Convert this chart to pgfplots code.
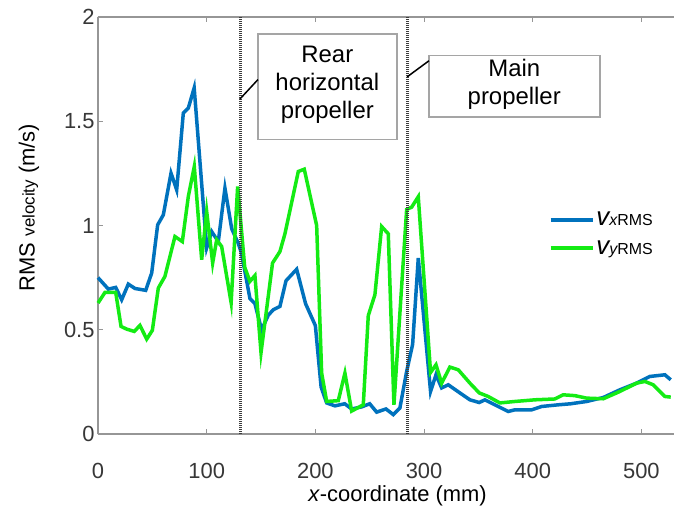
\documentclass[border=0pt]{standalone}
\usepackage{pgfplots}
\pgfplotsset{compat=1.18}
\usepackage{fontspec}
\setmainfont{Liberation Sans}
\definecolor{vxblue}{RGB}{0,114,189}
\definecolor{vygreen}{RGB}{20,235,20}
\definecolor{axgray}{RGB}{150,150,150}
\definecolor{boxgray}{RGB}{165,165,165}
\definecolor{ticktext}{RGB}{55,55,55}
\definecolor{markgray}{RGB}{60,60,60}

\pgfplotstableread{
x y
0 0.750
9.5 0.695
16.3 0.703
21.8 0.644
27.9 0.719
34 0.698
43.9 0.689
49.4 0.772
54.9 1.003
60.1 1.051
67.2 1.251
72.4 1.171
78.5 1.539
83.1 1.563
88.5 1.660
100 0.893
104.6 0.971
110.7 0.923
116.8 1.179
123 0.985
129 0.915
132 0.868
139.8 0.650
144.4 0.625
150.5 0.500
156.7 0.570
161.3 0.596
167.4 0.612
173 0.735
182.8 0.790
191 0.625
200 0.520
205.3 0.225
210.4 0.149
218 0.135
227 0.145
233.4 0.120
242.6 0.130
250 0.145
256.4 0.105
265 0.120
271.7 0.093
277.8 0.125
284 0.300
289.5 0.430
294.7 0.844
306 0.204
311 0.284
316.2 0.221
322.3 0.236
333 0.197
342.2 0.164
350.8 0.151
356 0.164
368.3 0.132
377.5 0.108
383.6 0.116
399 0.116
408.2 0.132
423.5 0.140
435 0.145
449.6 0.156
464.9 0.175
480.2 0.212
495.6 0.244
507.8 0.276
521.6 0.284
527 0.260
}\vxdata

\pgfplotstableread{
x y
0 0.628
6.4 0.679
16.3 0.679
21.2 0.516
26.4 0.503
33.4 0.492
38.6 0.521
44.8 0.455
50 0.497
55.5 0.700
61.6 0.756
70.8 0.947
77.6 0.923
83.1 1.139
88.6 1.283
95.4 0.836
100 1.067
105.5 0.820
109.2 0.931
113.8 0.899
122.5 0.630
128.5 1.187
135 0.800
139.8 0.732
144.4 0.760
150 0.390
160.6 0.820
167.4 0.875
172 0.960
184.3 1.259
189.8 1.270
201.2 1.000
205.8 0.292
210.4 0.156
221.1 0.160
227.2 0.292
233.4 0.110
244.1 0.140
248.7 0.568
254.8 0.668
261 0.995
267.1 0.960
272.3 0.140
284 1.077
288.6 1.088
294.7 1.138
306 0.295
311 0.332
316.2 0.244
323.8 0.321
331.5 0.308
342.2 0.244
350.8 0.197
359 0.180
369.8 0.149
383.6 0.156
402 0.164
420.4 0.168
428 0.188
438.8 0.184
449.6 0.172
464.9 0.169
480.2 0.204
495.6 0.244
503.2 0.252
510.9 0.236
521.6 0.180
527 0.177
}\vydata

\begin{document}
\begin{tikzpicture}
\begin{axis}[
  scale only axis,
  width=576bp, height=417bp,
  xmin=0, xmax=530, ymin=0, ymax=2,
  axis x line*=box, axis y line*=left,
  xtick={0,100,...,500}, ytick={0,0.5,...,2},
  tick align=inside, major tick length=5bp,
  axis line style={axgray, line width=1.2bp},
  every tick/.style={axgray, line width=1bp},
  tick label style={font=\fontsize{22}{22}\selectfont, text=ticktext},
  xticklabel style={yshift=-26bp},
  /pgf/number format/assume math mode=true,
  xlabel={\textit{x}-coordinate (mm)},
  xlabel style={at={(axis description cs:0.52,-0.148)}, anchor=center,
    font=\fontsize{22}{22}\selectfont},
  ylabel={\fontsize{22}{22}\selectfont RMS\hspace{6bp}{\fontsize{17}{17}\selectfont velocity}\hspace{6bp}(m/s)},
  ylabel style={at={(axis description cs:-0.12,0.543)}, anchor=center},
  clip=false,
  legend style={draw=none, fill=none, at={(axis cs:412,0.96)}, anchor=west,
    row sep=9bp, font=\fontsize{16}{16}\selectfont},
  legend cell align=left,
  legend image code/.code={\draw[#1] (0bp,0bp) -- (42bp,0bp);},
]
\addplot[vxblue, line width=3.5bp] table[x=x,y=y] {\vxdata};
\addlegendentry{{\fontsize{26}{26}\selectfont\itshape v}{\itshape x}RMS}
\addplot[vygreen, line width=3.5bp] table[x=x,y=y] {\vydata};
\addlegendentry{{\fontsize{26}{26}\selectfont\itshape v}{\itshape y}RMS}

% propeller positions
\draw[markgray, line width=2.6bp, dash pattern=on 1bp off 1bp] (axis cs:131,0) -- (axis cs:131,2);
\draw[markgray, line width=2.6bp, dash pattern=on 1bp off 1bp] (axis cs:285,0) -- (axis cs:285,2);

% callouts
\draw[boxgray, line width=1.3bp, fill=white] (axis cs:147.2,1.411) rectangle (axis cs:275,1.919);
\node[align=center, font=\fontsize{24}{28}\selectfont] at (axis cs:211,1.675) {Rear\\horizontal\\propeller};
\draw[black, line width=1.5bp] (axis cs:130.5,1.606) -- (axis cs:147.2,1.70);

\draw[boxgray, line width=1.3bp, fill=white] (axis cs:304.5,1.521) rectangle (axis cs:461.8,1.816);
\node[align=center, font=\fontsize{24}{28}\selectfont] at (axis cs:383,1.675) {Main\\propeller};
\draw[black, line width=1.5bp] (axis cs:284.5,1.713) -- (axis cs:304.5,1.79);
\end{axis}
\pgfresetboundingbox
\path (-98bp,-72bp) rectangle (578bp,434bp);
\end{tikzpicture}
\end{document}
